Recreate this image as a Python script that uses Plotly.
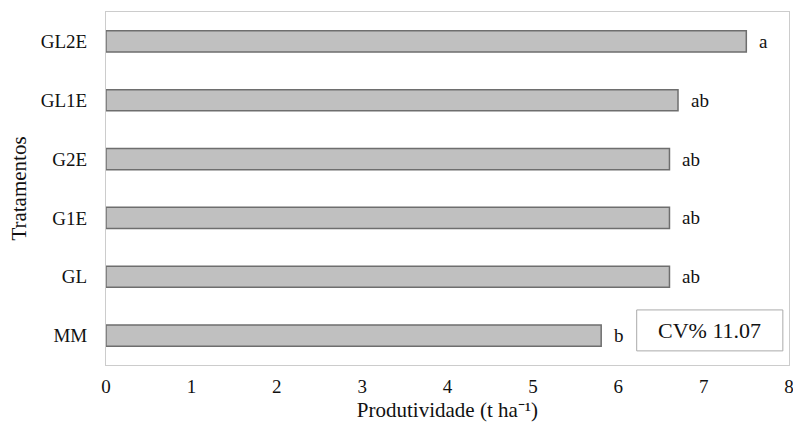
import plotly.graph_objects as go

categories = ["MM", "GL", "G1E", "G2E", "GL1E", "GL2E"]
productivity = [5.8, 6.6, 6.6, 6.6, 6.7, 7.5]
letters = ["b", "ab", "ab", "ab", "ab", "a"]
x_ticks = [0, 1, 2, 3, 4, 5, 6, 7, 8]
cv_text = "CV% 11.07"

FONT = "Liberation Serif, Times New Roman, serif"

fig = go.Figure()
fig.add_trace(go.Bar(
    x=productivity, y=categories, orientation="h", width=0.36,
    marker=dict(color="#c0c0c0", line=dict(color="#6e6e6e", width=1.5)),
    showlegend=False, hoverinfo="x+y",
))

for v, c, t in zip(productivity, categories, letters):
    fig.add_annotation(x=v, y=c, text=t, showarrow=False, xanchor="left",
                       xshift=11, font=dict(family=FONT, size=19, color="#111"))

fig.add_shape(type="rect", xref="paper", yref="paper", x0=0.777, x1=0.991,
              y0=0.040, y1=0.156, line=dict(color="#aaaaaa", width=1),
              fillcolor="white")
fig.add_annotation(xref="paper", yref="paper", x=0.884, y=0.098, text=cv_text,
                   xanchor="center", yanchor="middle",
                   showarrow=False, font=dict(family=FONT, size=22, color="#111"))

fig.update_xaxes(range=[0, 8], tickvals=x_ticks, showgrid=False, zeroline=False,
                 showline=True, linecolor="#cccccc", mirror=True, ticks="",
                 ticklabeloverflow="allow", automargin=False,
                 tickfont=dict(family=FONT, size=19, color="#111"),
                 ticklabelstandoff=4,
                 title=dict(text="Produtividade (t ha⁻¹)", standoff=6,
                            font=dict(family=FONT, size=21, color="#111")))
fig.update_yaxes(range=[-0.5, 5.5], showgrid=False, showline=True,
                 linecolor="#cccccc", mirror=True, ticks="",
                 tickfont=dict(family=FONT, size=19, color="#111"),
                 ticklabelstandoff=14,
                 title=dict(text="Tratamentos", standoff=8,
                            font=dict(family=FONT, size=21, color="#111")))

fig.update_layout(width=793, height=428, margin=dict(l=106, r=4, t=12, b=63),
                  plot_bgcolor="white", paper_bgcolor="white")

fig.write_html("out.html", config={"displayModeBar": False},
               post_script="document.body.style.margin='0';")
